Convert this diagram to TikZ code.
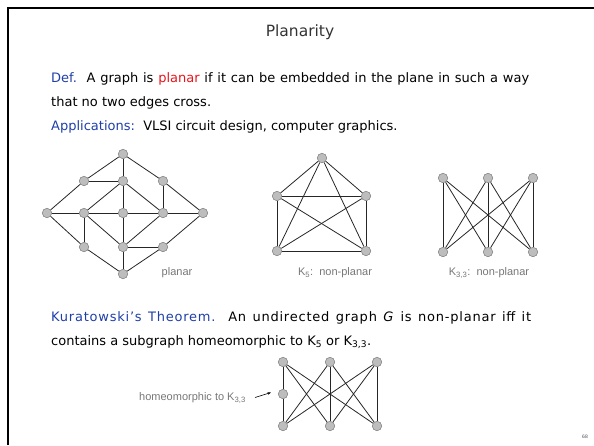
\documentclass[tikz,border=0pt]{standalone}
\usepackage{fontspec}
\setmainfont{DejaVu Sans}
\newfontfamily\labelfont{Liberation Sans}
\usetikzlibrary{arrows.meta}
\definecolor{cblue}{HTML}{1F3FA8}
\definecolor{cred}{HTML}{E8141B}
\definecolor{cgray}{HTML}{777777}
\definecolor{vfill}{HTML}{BDBDBD}
\definecolor{vdraw}{HTML}{7A7A7A}
\tikzset{
  vtx/.style={circle, fill=vfill, draw=vdraw, line width=0.5pt, inner sep=0pt, minimum size=9.5pt},
  lnk/.style={line width=0.8pt, black!85},
  lbl/.style={font=\labelfont\fontsize{11}{13}\selectfont, text=cgray, inner sep=0pt},
  body/.style={font=\fontsize{13}{15}\selectfont, anchor=base west, inner sep=0pt},
}

\begin{document}
\begin{tikzpicture}[x=1pt, y=-1pt]
  \useasboundingbox (0,0) rectangle (594,445);
  % slide frame
  \draw[line width=2pt] (8,445) -- (8,8) -- (594,8);

  % title and text
  \node[font=\fontsize{15.5}{18}\selectfont, text=black!80] (title) at (300,32) {Planarity};
  \node[body] (def1) at (51,82) {\makebox[478pt][s]{\textcolor{cblue}{Def.}\ \ A graph is \textcolor{cred}{planar} if it can be embedded in the plane in such a way}};
  \node[body] (def2) at (51,106) {that no two edges cross.};
  \node[body] (apps) at (51,130) {\textcolor{cblue}{Applications:}\ \ VLSI circuit design, computer graphics.};

  % planar graph
  \foreach \n/\x/\y in {p1/123/154, p2/84/181, p3/123/181, p4/163/181,
      p5/47/213, p6/84/213, p7/123/213, p8/163/213, p9/203/213,
      p10/84/247, p11/123/247, p12/163/247, p13/123/274}
    \node[vtx] (\n) at (\x,\y) {};
  \foreach \a/\b in {p1/p2, p1/p3, p1/p4, p2/p3, p2/p5, p3/p6, p3/p7, p3/p8,
      p4/p8, p4/p9, p5/p6, p6/p7, p7/p8, p8/p9, p5/p10, p6/p10, p6/p11,
      p7/p11, p8/p11, p9/p12, p10/p13, p11/p12, p11/p13, p12/p13}
    \draw[lnk] (\a) -- (\b);
  \node[lbl] (planar) at (177,273) {planar};

  % K5
  \foreach \n/\x/\y in {k1/322/158, k2/277/196, k3/366/196, k4/277/251, k5/366/251}
    \node[vtx] (\n) at (\x,\y) {};
  \foreach \a/\b in {k1/k2, k1/k3, k1/k4, k1/k5, k2/k3, k2/k4, k2/k5, k3/k4, k3/k5, k4/k5}
    \draw[lnk] (\a) -- (\b);
  \node[lbl] (kfive) at (335,273) {K\textsubscript{5}:\ \ non-planar};

  % K3,3
  \foreach \i/\x in {1/443, 2/488, 3/533}{
    \node[vtx] (a\i) at (\x,178) {};
    \node[vtx] (b\i) at (\x,252) {};
  }
  \foreach \i in {1,2,3}
    \foreach \j in {1,2,3}
      \draw[lnk] (a\i) -- (b\j);
  \node[lbl] (kthree) at (489,273) {K\textsubscript{3,3}:\ \ non-planar};

  % theorem
  \node[body] (kur1) at (51,321) {\addfontfeature{LetterSpace=6}\makebox[480pt][s]{\textcolor{cblue}{Kuratowski's Theorem.}\ \ An undirected graph \textit{G} is non-planar iff it}};
  \node[body] (kur2) at (51,345) {contains a subgraph homeomorphic to K\textsubscript{5} or K\textsubscript{3,3}.};

  % subdivided K3,3
  \foreach \i/\x in {1/283, 2/330, 3/377}{
    \node[vtx] (h\i) at (\x,362) {};
    \node[vtx] (g\i) at (\x,426) {};
  }
  \node[vtx] (m) at (283,394) {};
  \draw[lnk] (h1) -- (m);
  \draw[lnk] (m) -- (g1);
  \foreach \a/\b in {h1/g2, h1/g3, h2/g1, h2/g2, h2/g3, h3/g1, h3/g2, h3/g3}
    \draw[lnk] (\a) -- (\b);
  \node[lbl, anchor=east] (homeo) at (246,398) {homeomorphic to K\textsubscript{3,3}};
  \coordinate (atail) at (255,397.5);
  \coordinate (ahead) at (271,392.5);
  \draw[-{Stealth[length=3.5pt, width=2.5pt]}, line width=0.6pt] (atail) -- (ahead);

  % slide number
  \node[font=\labelfont\fontsize{5}{6}\selectfont, text=black!70] (pgnum) at (585,437) {68};
\end{tikzpicture}
\end{document}
